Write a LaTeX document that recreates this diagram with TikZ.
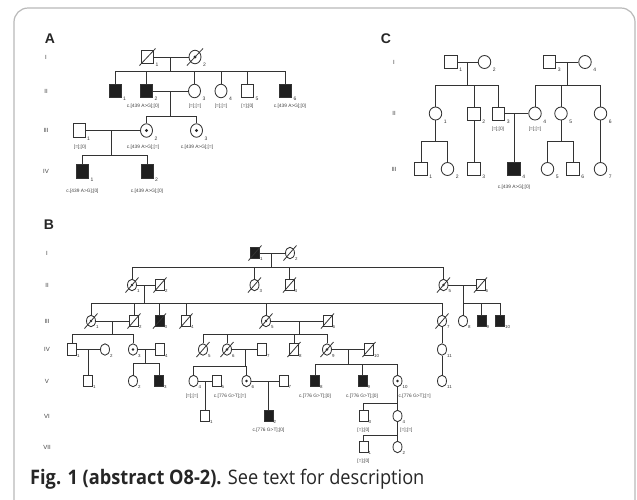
\documentclass[tikz,border=0pt]{standalone}
\usepackage{fontspec}
\setmainfont{Liberation Sans}
\newfontfamily\capfont{Open Sans}[FakeStretch=0.91]
\usetikzlibrary{shapes.geometric}
\tikzset{
 ln/.style={draw=black!80,line width=0.8pt},
 male/.style={rectangle,draw=black!80,line width=0.85pt,inner sep=0pt,fill=white},
 female/.style={ellipse,draw=black!80,line width=0.85pt,inner sep=0pt,fill=white},
 aff/.style={fill=black!88},
 symA/.style={minimum width=12pt,minimum height=13.5pt},
 symB/.style={minimum width=9pt,minimum height=11.5pt},
 symC/.style={minimum width=12.5pt,minimum height=13pt},
 numA/.style={anchor=north west,inner sep=0pt,font=\fontsize{5}{6}\selectfont,text=black!80},
 numB/.style={anchor=north west,inner sep=0pt,font=\fontsize{4.4}{5}\selectfont,text=black!80},
 geno/.style={inner sep=0pt,font=\fontsize{4.8}{5}\selectfont,text=black!75},
 gen/.style={inner sep=0pt,font=\fontsize{6}{7}\selectfont,text=black!75},
 panel/.style={inner sep=0pt,font=\fontsize{14}{15}\selectfont\bfseries,text=black!85},
}
\newcommand\nA[2]{\node[numA] (#1-n) at ([shift={(8pt,-6pt)}]#1.center) {#2};}
\newcommand\nC[2]{\node[numA] (#1-n) at ([shift={(8.25pt,-6pt)}]#1.center) {#2};}
\newcommand\nB[2]{\node[numB] (#1-n) at ([shift={(5pt,-4.5pt)}]#1.center) {#2};}
\newcommand\dA[1]{\draw[ln] ([shift={(-8pt,-8.5pt)}]#1.center) -- ([shift={(8pt,8.5pt)}]#1.center);}
\newcommand\dB[1]{\draw[ln] ([shift={(-6.5pt,-7.5pt)}]#1.center) -- ([shift={(6.5pt,7.5pt)}]#1.center);}
\newcommand\crA[1]{\fill[black!85] (#1.center) circle (1.6pt);}
\newcommand\crB[1]{\fill[black!85] (#1.center) circle (1.3pt);}
\begin{document}
\begin{tikzpicture}[x=1pt,y=-1pt]
\useasboundingbox (0,0) rectangle (637,499);
\fill[white] (0,0) rectangle (637,499);
\draw[gray!55,line width=1.2pt,rounded corners=14pt] (14,530) -- (14,8) -- (635,8) -- (635,530);

% ================= Panel A =================
\node[panel] (A-lab) at (50,39) {A};
\node[gen] (A-gI) at (46,57) {I};
\node[gen] (A-gII) at (46,91) {II};
\node[gen] (A-gIII) at (46,130.5) {III};
\node[gen] (A-gIV) at (46,171.5) {IV};

\node[male,symA] (A-I1) at (147.5,57) {};
\node[female,symA] (A-I2) at (195,57) {};
\node[male,symA,aff] (A-II1) at (115,91) {};
\node[male,symA,aff] (A-II2) at (146.5,91) {};
\node[female,symA] (A-II3) at (194.5,91) {};
\node[female,symA] (A-II4) at (221,91) {};
\node[male,symA] (A-II5) at (247.5,91) {};
\node[male,symA,aff] (A-II6) at (285.5,91) {};
\node[male,symA] (A-III1) at (79,130.5) {};
\node[female,symA] (A-III2) at (146.5,130.5) {};
\node[female,symA] (A-III3) at (196.5,130.5) {};
\node[male,symA,aff] (A-IV1) at (82.5,171.5) {};
\node[male,symA,aff] (A-IV2) at (147,171.5) {};
\crA{A-I2}\crA{A-III2}\crA{A-III3}
\dA{A-I1}\dA{A-I2}
\nA{A-I1}{1}\nA{A-I2}{2}
\nA{A-II1}{1}\nA{A-II2}{2}\nA{A-II3}{3}\nA{A-II4}{4}\nA{A-II5}{5}\nA{A-II6}{6}
\nA{A-III1}{1}\nA{A-III2}{2}\nA{A-III3}{3}
\nA{A-IV1}{1}\nA{A-IV2}{2}

\coordinate (A-m1) at (170.5,57); \coordinate (A-s1) at (170.5,71.5);
\coordinate (A-m2) at (170.5,91); \coordinate (A-s2) at (170.5,116);
\coordinate (A-m3) at (111.5,130.5); \coordinate (A-s3) at (111.5,155);
\draw[ln] (A-I1) -- (A-I2);
\draw[ln] (A-m1) -- (A-s1);
\draw[ln] (A-II1) -- (A-II1.north |- A-s1) -- (A-II6.north |- A-s1) -- (A-II6);
\foreach \k in {A-II2,A-II3,A-II4,A-II5} \draw[ln] (\k) -- (\k.north |- A-s1);
\draw[ln] (A-II2) -- (A-II3);
\draw[ln] (A-m2) -- (A-s2);
\draw[ln] (A-III2) -- (A-III2.north |- A-s2) -- (A-III3.north |- A-s2) -- (A-III3);
\draw[ln] (A-III1) -- (A-III2);
\draw[ln] (A-m3) -- (A-s3);
\draw[ln] (A-IV1) -- (A-IV1.north |- A-s3) -- (A-IV2.north |- A-s3) -- (A-IV2);

\node[geno] (A-II2-g) at (143,106.5) {c.[439 A>G];[0]};
\node[geno] (A-II3-g) at (195,106.5) {[=];[=]};
\node[geno] (A-II4-g) at (221,106.5) {[=];[=]};
\node[geno] (A-II5-g) at (247.5,106.5) {[=];[0]};
\node[geno] (A-II6-g) at (290,106.5) {c.[439 A>G];[0]};
\node[geno] (A-III1-g) at (80,147) {[=];[0]};
\node[geno] (A-III2-g) at (143,147) {c.[439 A>G];[=]};
\node[geno] (A-III3-g) at (197,147) {c.[439 A>G];[=]};
\node[geno] (A-IV1-g) at (82.5,191) {c.[439 A>G];[0]};
\node[geno] (A-IV2-g) at (147,191) {c.[439 A>G];[0]};

% ================= Panel C =================
\node[panel] (C-lab) at (386,39) {C};
\node[gen] (C-gI) at (394,62) {I};
\node[gen] (C-gII) at (394,113.5) {II};
\node[gen] (C-gIII) at (394,169) {III};

\node[male,symC] (C-I1) at (451,62) {};
\node[female,symC] (C-I2) at (484.5,62) {};
\node[male,symC] (C-I3) at (549.5,62) {};
\node[female,symC] (C-I4) at (585,62) {};
\node[female,symC] (C-II1) at (435.5,113.5) {};
\node[male,symC] (C-II2) at (474,113.5) {};
\node[male,symC] (C-II3) at (498.5,113.5) {};
\node[female,symC] (C-II4) at (535,113.5) {};
\node[female,symC] (C-II5) at (561,113.5) {};
\node[female,symC] (C-II6) at (600.5,113.5) {};
\node[male,symC] (C-III1) at (421,169) {};
\node[female,symC] (C-III2) at (447.5,169) {};
\node[male,symC] (C-III3) at (474,169) {};
\node[male,symC,aff] (C-III4) at (514,169) {};
\node[female,symC] (C-III5) at (547.5,169) {};
\node[male,symC] (C-III6) at (573,169) {};
\node[female,symC] (C-III7) at (600.5,169) {};
\nC{C-I1}{1}\nC{C-I2}{2}\nC{C-I3}{3}\nC{C-I4}{4}
\nC{C-II1}{1}\nC{C-II2}{2}\nC{C-II3}{3}\nC{C-II4}{4}\nC{C-II5}{5}\nC{C-II6}{6}
\nC{C-III1}{1}\nC{C-III2}{2}\nC{C-III3}{3}\nC{C-III4}{4}\nC{C-III5}{5}\nC{C-III6}{6}\nC{C-III7}{7}

\coordinate (C-m1) at (467.5,62); \coordinate (C-s1) at (467.5,85);
\coordinate (C-m2) at (567.5,62); \coordinate (C-s2) at (567.5,85);
\coordinate (C-m3) at (514,113.5);
\coordinate (C-s3) at (435.5,141.5);
\coordinate (C-s4) at (561,141.5);
\draw[ln] (C-I1) -- (C-I2);
\draw[ln] (C-I3) -- (C-I4);
\draw[ln] (C-m1) -- (C-s1);
\draw[ln] (C-m2) -- (C-s2);
\draw[ln] (C-II1) -- (C-II1.north |- C-s1) -- (C-II3.north |- C-s1) -- (C-II3);
\draw[ln] (C-II2) -- (C-II2.north |- C-s1);
\draw[ln] (C-II4) -- (C-II4.north |- C-s2) -- (C-II6.north |- C-s2) -- (C-II6);
\draw[ln] (C-II5) -- (C-II5.north |- C-s2);
\draw[ln] (C-II3) -- (C-II4);
\draw[ln] (C-m3) -- (C-III4);
\draw[ln] (C-II1) -- (C-s3);
\draw[ln] (C-III1) -- (C-III1.north |- C-s3) -- (C-III2.north |- C-s3) -- (C-III2);
\draw[ln] (C-II2) -- (C-III3);
\draw[ln] (C-II5) -- (C-s4);
\draw[ln] (C-III5) -- (C-III5.north |- C-s4) -- (C-III6.north |- C-s4) -- (C-III6);
\draw[ln] (C-II6) -- (C-III7);

\node[geno] (C-II3-g) at (498,129.5) {[=];[0]};
\node[geno] (C-II4-g) at (535,129.5) {[=];[=]};
\node[geno] (C-III4-g) at (514,187) {c.[439 A>G];[0]};

% ================= Panel B =================
\node[panel] (B-lab) at (49,225) {B};
\node[gen] (B-gI) at (47,253) {I};
\node[gen] (B-gII) at (47,285) {II};
\node[gen] (B-gIII) at (47,321) {III};
\node[gen] (B-gIV) at (47,349.5) {IV};
\node[gen] (B-gV) at (47,381) {V};
\node[gen] (B-gVI) at (47,416) {VI};
\node[gen] (B-gVII) at (47,447) {VII};

\node[male,symB,aff] (B-I1) at (255,253) {};
\node[female,symB] (B-I2) at (290,253) {};
\node[female,symB] (B-II1) at (132,285) {};
\node[male,symB] (B-II2) at (160,285) {};
\node[female,symB] (B-II3) at (254.5,285) {};
\node[male,symB] (B-II4) at (289.5,285) {};
\node[female,symB] (B-II5) at (443.5,285) {};
\node[male,symB] (B-II6) at (480.5,285) {};
\node[female,symB] (B-III1) at (91,321) {};
\node[male,symB] (B-III2) at (134,321) {};
\node[male,symB,aff] (B-III3) at (159.5,321) {};
\node[male,symB] (B-III4) at (186,321) {};
\node[female,symB] (B-III5) at (266,321) {};
\node[male,symB] (B-III6) at (327.5,321) {};
\node[female,symB] (B-III7) at (442,321) {};
\node[female,symB] (B-III8) at (463,321) {};
\node[male,symB,aff] (B-III9) at (481.5,321) {};
\node[male,symB,aff] (B-III10) at (500,321) {};
\node[male,symB] (B-IV1) at (72,349.5) {};
\node[female,symB] (B-IV2) at (105,349.5) {};
\node[female,symB] (B-IV3) at (133,349.5) {};
\node[male,symB] (B-IV4) at (160,349.5) {};
\node[female,symB] (B-IV5) at (203,349.5) {};
\node[female,symB] (B-IV6) at (227,349.5) {};
\node[male,symB] (B-IV7) at (262,349.5) {};
\node[male,symB] (B-IV8) at (294,349.5) {};
\node[female,symB] (B-IV9) at (327,349.5) {};
\node[male,symB] (B-IV10) at (369,349.5) {};
\node[female,symB] (B-IV11) at (442,349.5) {};
\node[male,symB] (B-V1) at (88,381) {};
\node[female,symB] (B-V2) at (133,381) {};
\node[male,symB,aff] (B-V3) at (159,381) {};
\node[female,symB] (B-V4) at (193.5,381) {};
\node[male,symB] (B-V5) at (216.5,381) {};
\node[female,symB] (B-V6) at (246.5,381) {};
\node[male,symB] (B-V7) at (283.5,381) {};
\node[male,symB,aff] (B-V8) at (315,381) {};
\node[male,symB,aff] (B-V9) at (362.5,381) {};
\node[female,symB] (B-V10) at (397.5,381) {};
\node[female,symB] (B-V11) at (442,381) {};
\node[male,symB] (B-VI1) at (205,416) {};
\node[male,symB,aff] (B-VI2) at (268.5,416) {};
\node[male,symB] (B-VI3) at (363.5,416) {};
\node[female,symB] (B-VI4) at (397.5,416) {};
\node[male,symB] (B-VII1) at (363.5,447) {};
\node[female,symB] (B-VII2) at (397.5,447) {};

\crB{B-II1}\crB{B-II5}\crB{B-III1}\crB{B-III5}\crB{B-IV3}\crB{B-IV6}\crB{B-IV9}\crB{B-V6}\crB{B-V10}
\dB{B-I1}\dB{B-I2}\dB{B-II1}\dB{B-II2}\dB{B-II3}\dB{B-II4}\dB{B-II5}\dB{B-II6}
\dB{B-III1}\dB{B-III2}\dB{B-III3}\dB{B-III4}\dB{B-III5}\dB{B-III6}\dB{B-III7}
\dB{B-IV5}\dB{B-IV6}\dB{B-IV8}\dB{B-IV9}\dB{B-IV10}

\nB{B-I1}{1}\nB{B-I2}{2}
\nB{B-II1}{1}\nB{B-II2}{2}\nB{B-II3}{3}\nB{B-II4}{4}\nB{B-II5}{5}\nB{B-II6}{6}
\nB{B-III1}{1}\nB{B-III2}{2}\nB{B-III3}{3}\nB{B-III4}{4}\nB{B-III5}{5}\nB{B-III6}{6}\nB{B-III7}{7}\nB{B-III8}{8}\nB{B-III9}{9}\nB{B-III10}{10}
\nB{B-IV1}{1}\nB{B-IV2}{2}\nB{B-IV3}{3}\nB{B-IV4}{4}\nB{B-IV5}{5}\nB{B-IV6}{6}\nB{B-IV7}{7}\nB{B-IV8}{8}\nB{B-IV9}{9}\nB{B-IV10}{10}\nB{B-IV11}{11}
\nB{B-V1}{1}\nB{B-V2}{2}\nB{B-V3}{3}\nB{B-V4}{4}\nB{B-V5}{5}\nB{B-V6}{6}\nB{B-V7}{7}\nB{B-V8}{8}\nB{B-V9}{9}\nB{B-V10}{10}\nB{B-V11}{11}
\nB{B-VI1}{1}\nB{B-VI2}{2}\nB{B-VI3}{3}\nB{B-VI4}{4}
\nB{B-VII1}{1}\nB{B-VII2}{2}

\coordinate (B-m1) at (271,253); \coordinate (B-s1) at (271,267.5);
\coordinate (B-m2) at (144.5,285); \coordinate (B-s2) at (144.5,303.3);
\coordinate (B-m3) at (463,285); \coordinate (B-s3) at (463,303.3);
\coordinate (B-m4) at (112,321); \coordinate (B-s4) at (112,334);
\coordinate (B-m5) at (299,321); \coordinate (B-s5) at (299,334);
\coordinate (B-m6) at (88,349.5);
\coordinate (B-m7) at (145,349.5); \coordinate (B-s7) at (145,363.3);
\coordinate (B-m8) at (245,349.5); \coordinate (B-s8) at (245,366.5);
\coordinate (B-m9) at (348,349.5); \coordinate (B-s9) at (348,364);
\coordinate (B-m10) at (205,381);
\coordinate (B-m11) at (268.5,381);
\coordinate (B-s12) at (397.5,403.5);
\coordinate (B-s13) at (397.5,435);

\draw[ln] (B-I1) -- (B-I2);
\draw[ln] (B-m1) -- (B-s1);
\draw[ln] (B-II1) -- (B-II1.north |- B-s1) -- (B-II5.north |- B-s1) -- (B-II5);
\foreach \k in {B-II3,B-II4} \draw[ln] (\k) -- (\k.north |- B-s1);
\draw[ln] (B-II1) -- (B-II2);
\draw[ln] (B-m2) -- (B-s2);
\draw[ln] (B-III1) -- (B-III1.north |- B-s2) -- (B-III7.north |- B-s2) -- (B-III7);
\foreach \k in {B-III2,B-III3,B-III4,B-III5} \draw[ln] (\k) -- (\k.north |- B-s2);
\draw[ln] (B-II5) -- (B-II6);
\draw[ln] (B-m3) -- (B-s3);
\draw[ln] (B-III8) -- (B-III8.north |- B-s3) -- (B-III10.north |- B-s3) -- (B-III10);
\draw[ln] (B-III9) -- (B-III9.north |- B-s3);
\draw[ln] (B-III1) -- (B-III2);
\draw[ln] (B-m4) -- (B-s4);
\draw[ln] (B-IV1) -- (B-IV1.north |- B-s4) -- (B-IV3.north |- B-s4) -- (B-IV3);
\draw[ln] (B-III5) -- (B-III6);
\draw[ln] (B-m5) -- (B-s5);
\draw[ln] (B-IV5) -- (B-IV5.north |- B-s5) -- (B-IV9.north |- B-s5) -- (B-IV9);
\foreach \k in {B-IV6,B-IV8} \draw[ln] (\k) -- (\k.north |- B-s5);
\draw[ln] (B-III7) -- (B-IV11);
\draw[ln] (B-IV11) -- (B-V11);
\draw[ln] (B-IV1) -- (B-IV2);
\draw[ln] (B-m6) -- (B-V1);
\draw[ln] (B-IV3) -- (B-IV4);
\draw[ln] (B-m7) -- (B-s7);
\draw[ln] (B-V2) -- (B-V2.north |- B-s7) -- (B-V3.north |- B-s7) -- (B-V3);
\draw[ln] (B-IV6) -- (B-IV7);
\draw[ln] (B-m8) -- (B-s8);
\draw[ln] (B-V4) -- (B-V4.north |- B-s8) -- (B-V6.north |- B-s8) -- (B-V6);
\draw[ln] (B-IV9) -- (B-IV10);
\draw[ln] (B-m9) -- (B-s9);
\draw[ln] (B-V8) -- (B-V8.north |- B-s9) -- (B-V10.north |- B-s9) -- (B-V10);
\draw[ln] (B-V9) -- (B-V9.north |- B-s9);
\draw[ln] (B-V4) -- (B-V5);
\draw[ln] (B-m10) -- (B-VI1);
\draw[ln] (B-V6) -- (B-V7);
\draw[ln] (B-m11) -- (B-VI2);
\draw[ln] (B-V10) -- (B-VI4);
\draw[ln] (B-s12) -- (B-VI3.north |- B-s12) -- (B-VI3);
\draw[ln] (B-VI4) -- (B-VII2);
\draw[ln] (B-s13) -- (B-VII1.north |- B-s13) -- (B-VII1);

\node[geno] (B-V4-g) at (192,396) {[=];[=]};
\node[geno] (B-V6-g) at (230,396) {c.[776 G>T];[=]};
\node[geno] (B-V8-g) at (315,396) {c.[776 G>T];[0]};
\node[geno] (B-V9-g) at (362,396) {c.[776 G>T];[0]};
\node[geno,anchor=west] (B-V10-g) at (398.5,396) {c.[776 G>T];[=]};
\node[geno] (B-VI2-g) at (268.5,430) {c.[776 G>T];[0]};
\node[geno] (B-VI3-g) at (363.5,430) {[=];[0]};
\node[geno,anchor=west] (B-VI4-g) at (400,430) {[=];[=]};
\node[geno] (B-VII1-g) at (363.5,461) {[=];[0]};

% ================= Caption =================
\node[anchor=base west,inner sep=0pt,font=\capfont\fontsize{20}{22}\selectfont,text=black!85] (cap) at (30,484)
  {\textbf{Fig. 1 (abstract O8-2).} See text for description};
\end{tikzpicture}
\end{document}
